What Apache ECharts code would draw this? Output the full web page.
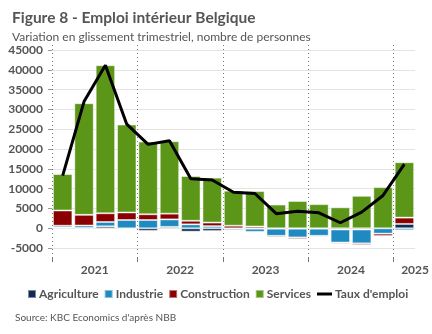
<!DOCTYPE html>
<html>
<head>
<meta charset="utf-8">
<script src="https://cdn.jsdelivr.net/npm/echarts@6/dist/echarts.min.js"></script>
<style>
html,body{margin:0;padding:0;background:#fff;}
#chart{width:432px;height:334px;}
</style>
</head>
<body>
<div id="chart"></div>
<script>
// ---- data ----
const categories = ['2021Q1','2021Q2','2021Q3','2021Q4','2022Q1','2022Q2','2022Q3','2022Q4','2023Q1','2023Q2','2023Q3','2023Q4','2024Q1','2024Q2','2024Q3','2024Q4','2025Q1'];
const agriculture = [200, 100, 500, -100, -650, 350, -850, -700, -50, -100, -100, -100, -100, -300, -300, 0, 1100];
const industrie = [450, 600, 1100, 2100, 2100, 1900, 1000, 550, -400, -800, -1800, -2200, -1800, -3300, -3500, -1350, -500];
const construction = [3850, 2700, 2200, 1900, 1450, 1450, 900, 900, 650, 450, -350, -400, -300, -300, -400, -600, 1600];
const services = [9200, 28200, 37400, 22200, 18350, 18300, 11300, 11350, 8850, 8950, 6000, 6900, 6100, 5300, 8200, 10400, 14000];
const tauxEmploi = [13300, 32000, 41200, 26300, 21200, 22100, 12500, 12200, 9100, 8800, 3700, 4300, 3900, 1400, 4100, 8300, 16200];
const yTicks = [-5000, 0, 5000, 10000, 15000, 20000, 25000, 30000, 35000, 40000, 45000];
const years = ['2021', '2022', '2023', '2024', '2025'];
const seriesNames = ['Agriculture', 'Industrie', 'Construction', 'Services'];
const lineName = "Taux d'emploi";

// ---- derived positions on the category scale ----
const nCat = categories.length;
const yearStart = years.map(y => categories.findIndex(c => c.startsWith(y)));
const yearBounds = yearStart.filter(i => i > 0).concat([0]).sort((a, b) => a - b);
const yearLabelPos = yearStart.map(i => Math.min(i + 2, nCat));

const FONT = 'Lato';
const GREY = '#555555';
const colors = ['#0d2d52', '#1f8ac0', '#8b0000', '#5b9619'];

const chart = echarts.init(document.getElementById('chart'), null, {renderer: 'canvas'});
const barData = [agriculture, industrie, construction, services];

const option = {
  animation: false,
  textStyle: {fontFamily: FONT},
  title: [
    {text: 'Figure 8 - Emploi intérieur Belgique', left: 7, top: 5,
     textStyle: {fontFamily: FONT, fontSize: 15.5, fontWeight: 'bold', color: GREY}},
    {text: 'Variation en glissement trimestriel, nombre de personnes', left: 7, top: 26,
     textStyle: {fontFamily: FONT, fontSize: 12, fontWeight: 'normal', color: GREY}},
    {text: "Source: KBC Economics d'après NBB", left: 10, top: 308,
     textStyle: {fontFamily: FONT, fontSize: 10, fontWeight: 'normal', color: GREY}}
  ],
  legend: [
    {data: seriesNames, left: 22, top: 283, itemWidth: 8, itemHeight: 8, itemGap: 5,
     icon: 'rect',
     textStyle: {fontFamily: FONT, fontSize: 12, fontWeight: 'bold', color: GREY, padding: [0, 0, 0, -2]}},
    {data: [lineName], left: 312, top: 283, itemWidth: 15, itemHeight: 8,
     icon: 'path://M0,0 L15,0 L15,3 L0,3 Z',
     textStyle: {fontFamily: FONT, fontSize: 12, fontWeight: 'bold', color: GREY, padding: [0, 0, 0, -2]}}
  ],
  grid: {left: 52, right: 14.5, top: 45, bottom: 76, containLabel: false},
  xAxis: [
    {type: 'category', data: categories, show: false, boundaryGap: true},
    {type: 'value', min: 0, max: nCat, position: 'bottom',
     axisLine: {show: false},
     axisTick: {show: true, length: 4, customValues: yearBounds, lineStyle: {color: '#777', width: 1}},
     splitLine: {show: true, lineStyle: {color: '#777', type: [1, 3], width: 1}},
     axisLabel: {customValues: yearLabelPos, margin: 6,
       formatter: v => years[yearLabelPos.indexOf(v)] || '',
       fontFamily: FONT, fontSize: 12, fontWeight: 'bold', color: GREY}}
  ],
  yAxis: {
    type: 'value', min: -7500, max: 46300,
    axisLine: {show: false},
    axisTick: {show: true, length: 4, customValues: yTicks, lineStyle: {color: '#999'}},
    axisLabel: {customValues: yTicks, margin: 9, fontFamily: FONT, fontSize: 12, fontWeight: 'bold', color: GREY,
      formatter: v => String(v)},
    splitLine: {show: true, lineStyle: {color: '#e4e4e4', width: 1}}
  },
  series: barData.map((d, k) => ({
    name: seriesNames[k], type: 'bar', stack: 'emploi', data: d,
    barCategoryGap: '9%',
    itemStyle: {color: colors[k], borderColor: 'rgba(255,255,255,0.45)', borderWidth: 1},
    emphasis: {disabled: true}
  })).concat([{
    name: lineName, type: 'line', data: tauxEmploi, symbol: 'none', z: 5,
    itemStyle: {color: '#000'},
    lineStyle: {color: '#000', width: 3}
  }])
};
chart.setOption(option);
</script>
</body>
</html>
